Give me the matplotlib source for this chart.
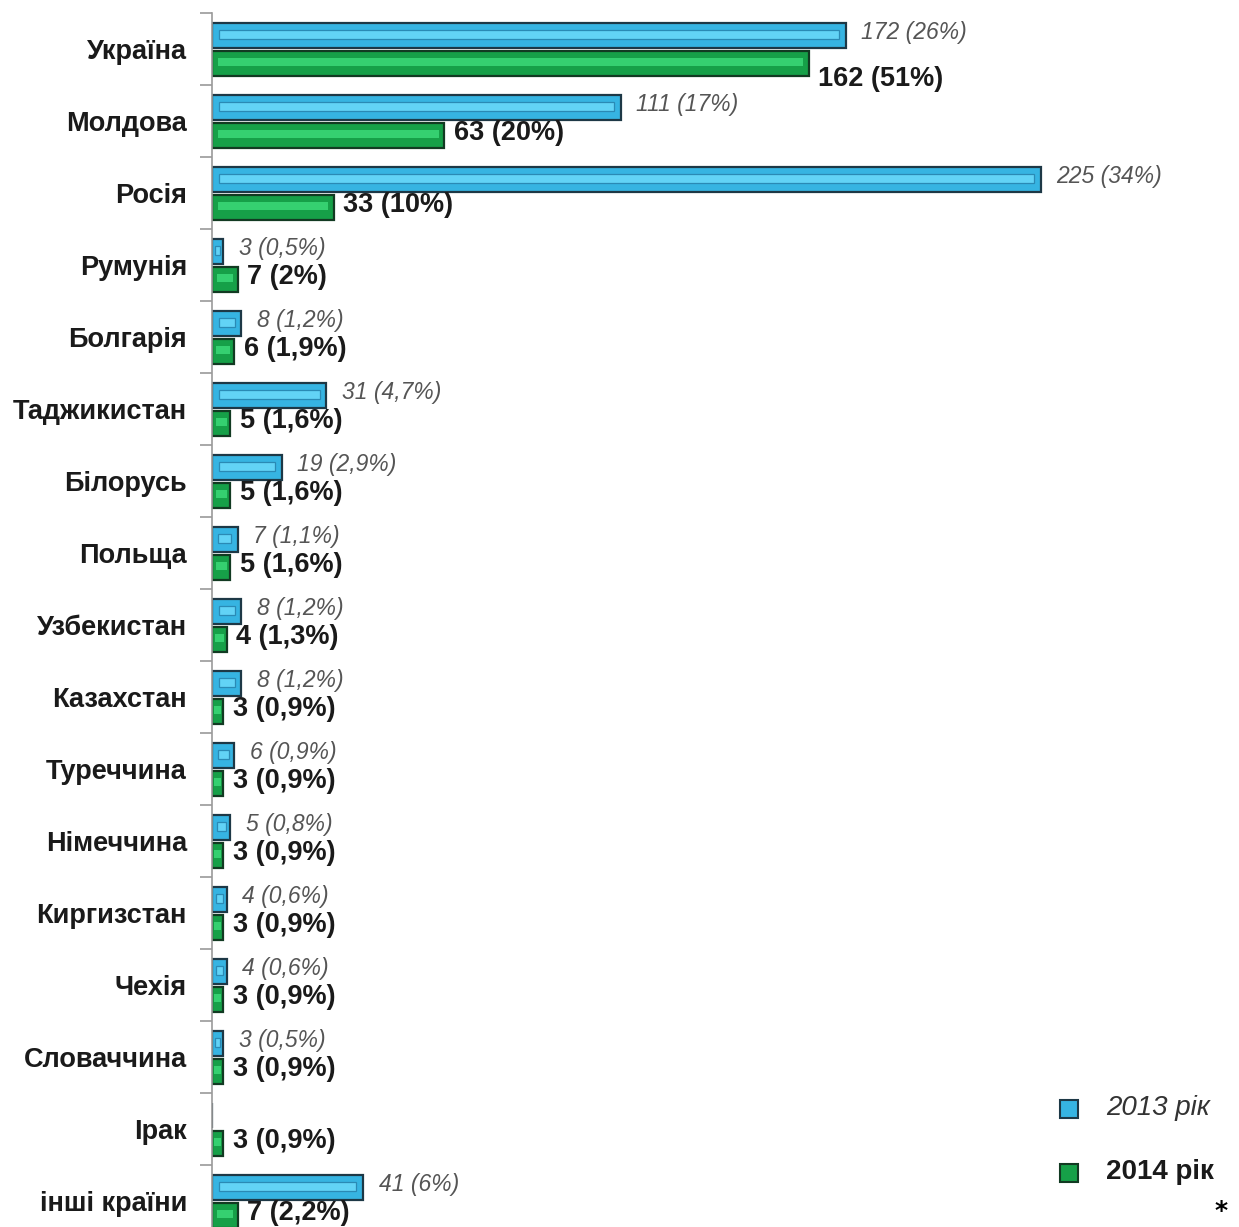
import matplotlib
matplotlib.use("Agg")
import matplotlib.pyplot as plt
from matplotlib.patches import Rectangle
import numpy as np

# === Data ===
countries = ["Україна", "Молдова", "Росія", "Румунія", "Болгарія", "Таджикистан",
             "Білорусь", "Польща", "Узбекистан", "Казахстан", "Туреччина",
             "Німеччина", "Киргизстан", "Чехія", "Словаччина", "Ірак", "інші країни"]
vals_2013 = [172, 111, 225, 3, 8, 31, 19, 7, 8, 8, 6, 5, 4, 4, 3, 0, 41]
pct_2013 = ["26%", "17%", "34%", "0,5%", "1,2%", "4,7%", "2,9%", "1,1%", "1,2%",
            "1,2%", "0,9%", "0,8%", "0,6%", "0,6%", "0,5%", "", "6%"]
vals_2014 = [162, 63, 33, 7, 6, 5, 5, 5, 4, 3, 3, 3, 3, 3, 3, 3, 7]
pct_2014 = ["51%", "20%", "10%", "2%", "1,9%", "1,6%", "1,6%", "1,6%", "1,3%",
            "0,9%", "0,9%", "0,9%", "0,9%", "0,9%", "0,9%", "0,9%", "2,2%"]

plt.rcParams['font.family'] = ['Liberation Sans Narrow', 'Liberation Sans', 'DejaVu Sans']

W, H = 1239, 1227
fig = plt.figure(figsize=(W / 100, H / 100), dpi=100)

n = len(countries)
row_px = 72.0
top_px = 13.0
ax_left = 212 / W
ax_top = 1 - top_px / H
ax_h = n * row_px / H
ax = fig.add_axes([ax_left, ax_top - ax_h, 1 - ax_left, ax_h])

xmax = (W - 212) / (829 / 225)
ax.set_xlim(0, xmax)
ax.set_ylim(n - 0.5, -0.5)

y = np.arange(n)
off_b, off_g = -0.19, 0.2
h = 0.34

blue, blue_hi, blue_edge = "#36b4e2", "#62d3f6", "#1d3846"
green, green_hi, green_edge = "#16a048", "#35d070", "#123a22"

ax.barh(y + off_b, vals_2013, height=h, color=blue, edgecolor=blue_edge, linewidth=1.6, zorder=2)
ax.barh(y + off_g, vals_2014, height=h, color=green, edgecolor=green_edge, linewidth=1.6, zorder=2)

# bevel highlight inside bars
for i in range(n):
    v = vals_2013[i]
    if v > 0:
        inset = min(1.8, v * 0.25)
        ax.barh(y[i] + off_b - 0.01, v - 2 * inset, left=inset, height=h * 0.38,
                color=blue_hi, edgecolor="#2a8ab5", linewidth=0.9, zorder=3)
    v = vals_2014[i]
    inset = min(1.5, v * 0.2)
    ax.barh(y[i] + off_g - 0.02, v - 2 * inset, left=inset, height=h * 0.35,
            color=green_hi, edgecolor="none", zorder=3)

# value labels
for i in range(n):
    if vals_2013[i] > 0:
        ax.text(vals_2013[i] + 4.2, y[i] + off_b - 0.04, f"{vals_2013[i]} ({pct_2013[i]})",
                ha="left", va="center", fontsize=16.5, style="italic", color="#555555", zorder=4)
    dy = 0.22 if i == 0 else -0.03
    ax.text(vals_2014[i] + 2.6, y[i] + off_g + dy, f"{vals_2014[i]} ({pct_2014[i]})",
            ha="left", va="center", fontsize=19.5, fontweight="bold", color="#1a1a1a", zorder=4)

# axes styling
for s in ["top", "right", "bottom"]:
    ax.spines[s].set_visible(False)
ax.spines["left"].set_color("#9a9a9a")
ax.spines["left"].set_linewidth(1.2)
ax.set_xticks([])
ax.set_yticks(y)
ax.set_yticklabels(countries, fontsize=19.5, fontweight="bold", color="#1a1a1a")
ax.tick_params(axis="y", which="major", length=0, pad=18)
ax.set_yticks(np.arange(-0.5, n - 0.5, 1.0), minor=True)
ax.tick_params(axis="y", which="minor", length=9, color="#9a9a9a", width=1.2)

# legend
fig.patches.append(Rectangle((1060 / W, 1 - 1118 / H), 18 / W, 18 / H, transform=fig.transFigure,
                             facecolor=blue, edgecolor=blue_edge, linewidth=1.5))
fig.patches.append(Rectangle((1060 / W, 1 - 1182 / H), 18 / W, 18 / H, transform=fig.transFigure,
                             facecolor=green, edgecolor=green_edge, linewidth=1.5))
fig.text(1106 / W, 1 - 1108 / H, "2013 рік", fontsize=20, style="italic", color="#333333",
         va="center", ha="left")
fig.text(1106 / W, 1 - 1172 / H, "2014 рік", fontsize=20, fontweight="bold", color="#1a1a1a",
         va="center", ha="left")
fig.text(1221 / W, 1 - 1211 / H, "*", fontsize=18, fontweight="bold", color="black",
         va="center", ha="center", family="DejaVu Sans")

fig.savefig("out.png", dpi=100)
